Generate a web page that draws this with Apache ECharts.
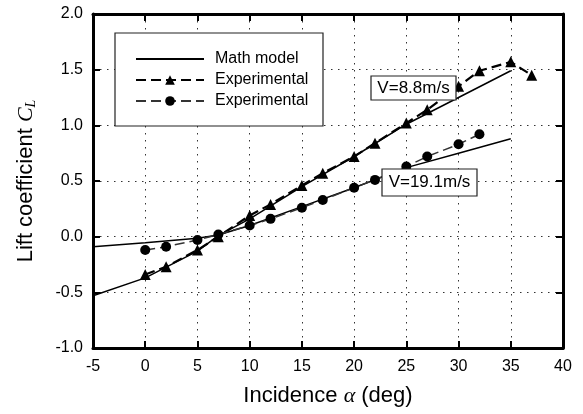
<!DOCTYPE html>
<html><head><meta charset="utf-8">
<script src="https://cdn.jsdelivr.net/npm/echarts@6/dist/echarts.min.js"></script>
<style>html,body{margin:0;padding:0;background:#fff}#c{width:583px;height:414px}</style>
</head><body><div id="c"></div>
<script>
// ---- data ----
const alpha88 = [0, 2, 5, 7, 10, 12, 15, 17, 20, 22, 25, 27, 30, 32, 35, 37];
const cl88 = [-0.34, -0.27, -0.12, 0.00, 0.19, 0.29, 0.46, 0.57, 0.72, 0.84, 1.02, 1.14, 1.35, 1.49, 1.57, 1.45];
const alpha191 = [0, 2, 5, 7, 10, 12, 15, 17, 20, 22, 25, 27, 30, 32];
const cl191 = [-0.12, -0.09, -0.03, 0.02, 0.10, 0.16, 0.26, 0.33, 0.44, 0.51, 0.63, 0.72, 0.83, 0.92];
const alphaModel = [-5, 0, 5, 7, 10, 15, 20, 25, 30, 35];
const clModel88 = [-0.53, -0.37, -0.13, 0.01, 0.16, 0.45, 0.72, 1.01, 1.25, 1.49];
const clModel191 = [-0.09, -0.055, -0.015, 0.015, 0.10, 0.27, 0.44, 0.62, 0.75, 0.88];
const legendNames = ['Math model', 'Experimental', 'Experimental'];
const annot88 = 'V=8.8m/s';
const annot191 = 'V=19.1m/s';

const zip = (a, b) => a.map((v, i) => [v, b[i]]);
const FONT = 'Liberation Sans, Arial, sans-serif';
const SERIF = 'Liberation Serif, DejaVu Serif, serif';

const chart = echarts.init(document.getElementById('c'), null, {renderer: 'canvas'});
const gridDash = {color: '#333', width: 1, type: [1.5, 5.5]};
const tickStyle = {show: true, inside: true, length: 7, lineStyle: {color: '#000', width: 2}};
const frameLine = {show: true, onZero: false, lineStyle: {color: '#000', width: 3}};

chart.setOption({
  animation: false,
  backgroundColor: '#fff',
  grid: {left: 93, right: 20, top: 14, bottom: 66, containLabel: false},
  xAxis: [{
    type: 'value', min: -5, max: 40, interval: 5, position: 'bottom',
    axisLine: frameLine, axisTick: tickStyle,
    axisLabel: {color: '#000', fontSize: 16, fontFamily: FONT, margin: 11},
    splitLine: {show: true, lineStyle: gridDash},
    name: 'Incidence {a|α} (deg)', nameLocation: 'middle', nameGap: 37,
    nameTextStyle: {color: '#000', fontSize: 22, fontFamily: FONT,
      rich: {a: {fontSize: 22, fontFamily: SERIF, fontStyle: 'italic', color: '#000'}}}
  }, {
    type: 'value', min: -5, max: 40, interval: 5, position: 'top',
    axisLine: frameLine, axisTick: tickStyle, axisLabel: {show: false}, splitLine: {show: false}
  }],
  yAxis: [{
    type: 'value', min: -1, max: 2, interval: 0.5, position: 'left',
    axisLine: frameLine, axisTick: tickStyle,
    axisLabel: {color: '#000', fontSize: 16, fontFamily: FONT, margin: 10,
      formatter: v => v.toFixed(1)},
    splitLine: {show: true, lineStyle: gridDash},
    name: 'Lift coefficient {c|C}{s|L}', nameLocation: 'middle', nameGap: 55, nameRotate: 90,
    nameTextStyle: {color: '#000', fontSize: 22, fontFamily: FONT,
      rich: {
        c: {fontSize: 22, fontFamily: SERIF, fontStyle: 'italic', color: '#000'},
        s: {fontSize: 14, fontFamily: SERIF, fontStyle: 'italic', color: '#000', verticalAlign: 'bottom', padding: [10, 0, 0, 0]}
      }}
  }, {
    type: 'value', min: -1, max: 2, interval: 0.5, position: 'right',
    axisLine: frameLine, axisTick: tickStyle, axisLabel: {show: false}, splitLine: {show: false}
  }],
  legend: {
    left: 130, top: 46, orient: 'vertical', itemWidth: 68, itemHeight: 12, itemGap: 5,
    z: 20,
    data: [{name: 'model', itemStyle: {opacity: 0}}, {name: 'exp88'}, {name: 'exp191'}],
    formatter: n => n === 'model' ? legendNames[0] : (n === 'exp88' ? legendNames[1] : legendNames[2]),
    textStyle: {color: '#000', fontSize: 16, fontFamily: FONT, padding: [0, 0, 0, 6]}
  },
  graphic: [
    {type: 'rect', z: 10, shape: {x: 115, y: 33, width: 208, height: 93},
     style: {fill: '#fff', stroke: '#222', lineWidth: 1.2}},
    {type: 'rect', z: 10, shape: {x: 371, y: 76, width: 85, height: 24},
     style: {fill: '#fff', stroke: '#222', lineWidth: 1.2}},
    {type: 'text', z: 11, x: 413.5, y: 88,
     style: {text: annot88, fill: '#000', font: '17px ' + FONT, align: 'center', verticalAlign: 'middle'}},
    {type: 'rect', z: 10, shape: {x: 382, y: 169, width: 95, height: 27},
     style: {fill: '#fff', stroke: '#222', lineWidth: 1.2}},
    {type: 'text', z: 11, x: 429.5, y: 182.5,
     style: {text: annot191, fill: '#000', font: '17px ' + FONT, align: 'center', verticalAlign: 'middle'}}
  ],
  series: [
    {name: 'model', type: 'line', data: zip(alphaModel, clModel88), showSymbol: false, symbol: 'none',
     lineStyle: {color: '#000', width: 1.5}, itemStyle: {color: '#000'}, z: 3},
    {name: 'model', type: 'line', data: zip(alphaModel, clModel191), showSymbol: false, symbol: 'none',
     lineStyle: {color: '#000', width: 1.5}, itemStyle: {color: '#000'}, z: 3},
    {name: 'exp88', type: 'line', data: zip(alpha88, cl88), symbol: 'triangle', symbolSize: 11,
     lineStyle: {color: '#000', width: 2.2, type: [10, 5]}, itemStyle: {color: '#000'}, z: 4},
    {name: 'exp191', type: 'line', data: zip(alpha191, cl191), symbol: 'circle', symbolSize: 10,
     lineStyle: {color: '#333', width: 1.5, type: [10, 5]}, itemStyle: {color: '#000'}, z: 4}
  ]
});
</script></body></html>
